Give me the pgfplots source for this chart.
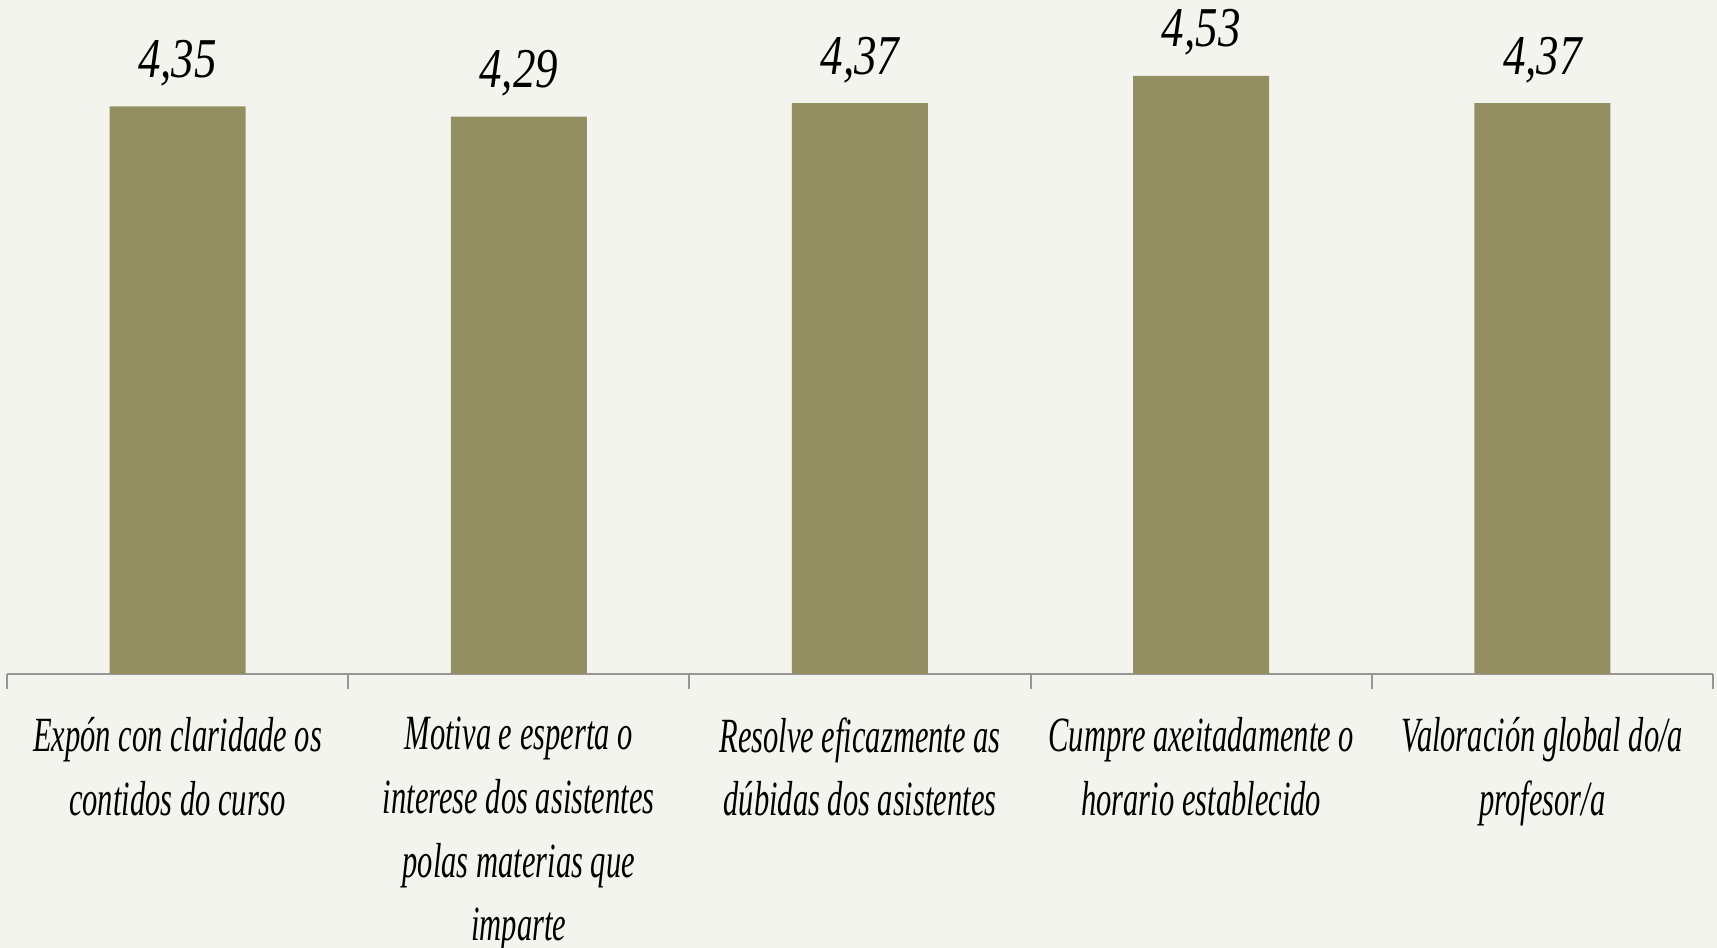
\documentclass[border=0pt]{standalone}
\usepackage{fontspec}
\usepackage{pgfplots}
\pgfplotsset{compat=1.18}
\usetikzlibrary{backgrounds}
\setmainfont{Liberation Serif}
\newfontfamily\handfont{Liberation Serif}[FakeStretch=0.62]
\newfontfamily\numfont{Liberation Serif}[FakeStretch=0.8]
\definecolor{bgc}{RGB}{243,244,238}
\definecolor{barc}{RGB}{147,143,99}
\definecolor{axc}{RGB}{150,150,150}
\begin{document}
\begin{tikzpicture}
\begin{axis}[
    scale only axis,
    width=17.06cm, height=6.76cm,
    xmin=-0.5, xmax=4.5,
    ymin=1, ymax=4.99,
    ybar, bar width=1.36cm,
    axis x line*=bottom, axis y line=none,
    x axis line style={draw=axc, line width=0.6pt},
    xtick={0,1,2,3,4},
    major tick length=0pt,
    xticklabels={
        {Expón con claridade os\\contidos do curso},
        {Motiva e esperta o\\interese dos asistentes\\polas materias que\\imparte},
        {Resolve eficazmente as\\dúbidas dos asistentes},
        {Cumpre axeitadamente o\\horario establecido},
        {Valoración global do/a\\profesor/a}},
    xticklabel style={align=center, anchor=north, yshift=-0.31cm,
        font=\handfont\itshape\fontsize{14}{18.1}\selectfont},
    extra x ticks={-0.5,0.5,1.5,2.5,3.5,4.5},
    extra x tick labels={},
    extra x tick style={tick align=outside, major tick length=0.15cm,
        major tick style={draw=axc, line width=0.6pt}},
    ytick=\empty,
    nodes near coords,
    nodes near coords style={anchor=base, yshift=0.29cm,
        font=\numfont\itshape\fontsize{16}{19}\selectfont},
    /pgf/number format/.cd, fixed, fixed zerofill, precision=2, use comma, assume math mode=true,
    /pgfplots/.cd,
    clip=false,
]
\addplot[fill=barc, draw=none] coordinates {(0,4.35) (1,4.29) (2,4.37) (3,4.53) (4,4.37)};
\coordinate (O) at (axis cs:-0.5,1);
\end{axis}
\pgfresetboundingbox
\begin{pgfonlayer}{background}
\fill[bgc] ([shift={(-0.07cm,-2.74cm)}]O) rectangle ([shift={(17.10cm,6.74cm)}]O);
\end{pgfonlayer}
\end{tikzpicture}
\end{document}
